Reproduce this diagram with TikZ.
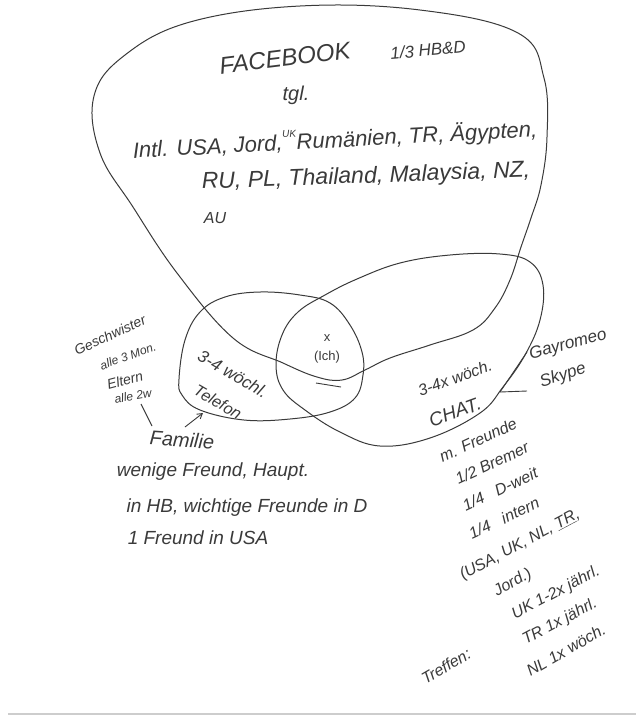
\documentclass[tikz,border=0pt]{standalone}
\usepackage{fontspec}
\setmainfont{Liberation Sans}
\usetikzlibrary{arrows.meta}
\definecolor{ink}{RGB}{58,58,58}
\definecolor{edge}{RGB}{205,205,205}
\begin{document}
\begin{tikzpicture}[x=1pt,y=-1pt,
  curve/.style={draw=ink, line width=1.0pt},
  pointer/.style={draw=ink, line width=0.9pt},
  hw/.style={text=ink, inner sep=0pt, font=\fontsize{#1}{#1}\selectfont\itshape},
  hw/.default=19,
  printed/.style={text=ink, inner sep=0pt, font=\fontsize{13}{14}\selectfont}
]
\useasboundingbox (0,0) rectangle (638,716);
\fill[white] (0,0) rectangle (638,716);
\draw[edge, line width=2pt] (8,714) -- (636,714);

% Facebook loop
\draw[curve] plot[smooth cycle, tension=0.65] coordinates {
  (94,96) (100,153) (133,207) (177,273) (233,338) (283,363) (317,377)
  (342,380) (365,370) (390,358) (430,345) (473,330) (495,308) (510,280)
  (521,247) (531,218) (541,185) (547,137) (544,78) (518,33) (420,10)
  (300,6) (190,22) (125,55)};

% Chat ellipse
\draw[curve] plot[smooth cycle, tension=0.65] coordinates {
  (276,365) (282,335) (298,312) (325,295) (357,279) (400,263) (450,255)
  (500,254) (530,262) (543,285) (540,320) (525,355) (503,387) (480,413)
  (430,438) (380,446) (340,432) (305,410) (283,390)};

% Family / Telefon ellipse
\draw[curve] plot[smooth cycle, tension=0.65] coordinates {
  (179,379) (185,340) (200,312) (225,297) (260,292) (300,295) (330,303)
  (350,325) (362,352) (363,375) (355,398) (330,412) (290,419) (244,420)
  (200,410) (182,395)};

% centre
\node[printed] (x) at (327,338) {x};
\node[printed] (ich) at (327,357) {(Ich)};
\coordinate (ulA) at (316,383);
\coordinate (ulB) at (341,387);
\draw[pointer] (ulA) -- (ulB);

% Facebook texts
\node[hw=24, rotate=7] (fb) at (285,58) {FACEBOOK};
\node[hw=17, rotate=5] (hbd) at (428,50) {1/3 HB\&D};
\node[hw=20] (tgl) at (296,95) {tgl.};
\node[hw=22, rotate=3] (intl) at (335,140) {Intl. USA, Jord,\raisebox{1.1ex}{\fontsize{10}{10}\selectfont UK}Rumänien, TR, Ägypten,};
\node[hw=23, rotate=2] (ru) at (366,177) {RU, PL, Thailand, Malaysia, NZ,};
\node[hw=16] (au) at (215,218) {AU};

% family side
\node[hw=14, rotate=25] (gesch) at (110,335) {Geschwister};
\node[hw=12, rotate=20] (alle3) at (128,356) {alle 3 Mon.};
\node[hw=14, rotate=15] (eltern) at (125,380) {Eltern};
\node[hw=12, rotate=10] (alle2) at (133,396) {alle 2w};
\node[hw=17, rotate=-30] (wochl) at (233,374) {3-4 wöchl.};
\node[hw=16, rotate=-30] (tel) at (218,402) {Telefon};
\node[hw=20, rotate=-4] (fam) at (182,440) {Familie};
\node[hw=19] (wenige) at (213,472) {wenige Freund, Haupt.};
\node[hw=19] (inhb) at (247,508) {in HB, wichtige Freunde in D};
\node[hw=19] (usa1) at (198,538) {1 Freund in USA};
\coordinate (famtop) at (152,426);
\coordinate (eltbot) at (141,404);
\draw[pointer] (eltbot) -- (famtop);
\coordinate (arrfrom) at (185,427);
\coordinate (arrto) at (203,413);
\draw[pointer, -{Straight Barb[length=5pt,width=6pt]}] (arrfrom) -- (arrto);

% chat side
\node[hw=16, rotate=20] (wochx) at (455,378) {3-4x wöch.};
\node[hw=17, rotate=15] (gay) at (568,345) {Gayromeo};
\node[hw=17, rotate=18] (skype) at (563,376) {Skype};
\node[hw=19, rotate=20] (chat) at (455,412) {CHAT.};
\coordinate (gayp) at (527,352);
\coordinate (chatp) at (500,392);
\coordinate (skyp) at (527,391);
\draw[pointer] (gayp) -- (chatp);
\draw[pointer] (skyp) -- (chatp);
\node[hw=16, rotate=25] (mfr) at (478,440) {m. Freunde};
\node[hw=16, rotate=25] (brem) at (492,463) {1/2 Bremer};
\node[hw=16, rotate=25] (dweit) at (500,489) {1/4 \ \ D-weit};
\node[hw=16, rotate=25] (intern) at (504,518) {1/4 \ \ intern};
\node[hw=16, rotate=28] (usal) at (520,545) {(USA, UK, NL, \underline{TR},};
\node[hw=16, rotate=30] (jord) at (513,583) {Jord.)};
\node[hw=16, rotate=30] (treff) at (446,666) {Treffen:};
\node[hw=16, rotate=28] (ukx) at (556,593) {UK 1-2x jährl.};
\node[hw=16, rotate=28] (trx) at (560,622) {TR 1x jährl.};
\node[hw=16, rotate=30] (nlx) at (566,650) {NL 1x wöch.};
\end{tikzpicture}
\end{document}
